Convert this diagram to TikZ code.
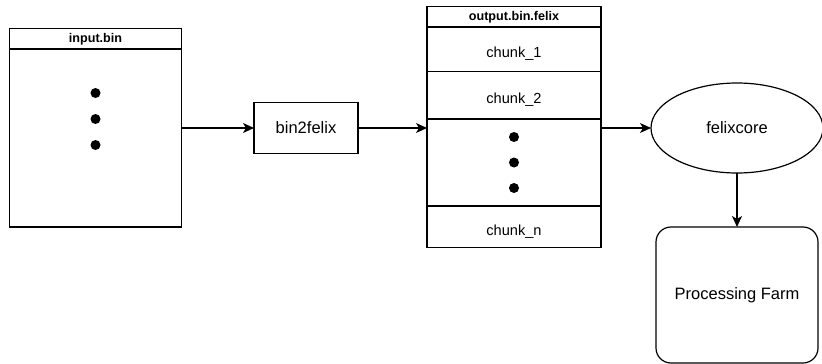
\documentclass[tikz,border=0pt]{standalone}
\usepackage{fontspec}
\setmainfont{Liberation Sans}
\usepackage{tikz}
\usetikzlibrary{arrows.meta,positioning,shapes.geometric}
\tikzset{
  box/.style = {rectangle, draw=black, line width=1.2pt, inner sep=0pt,
    outer sep=0pt, align=center, font=\fontsize{16.5}{20}\selectfont},
  hdr/.style = {box, font=\fontsize{12.6}{15}\selectfont\bfseries,
    minimum height=20.5pt},% title bar of a file
  cell/.style = {box, font=\fontsize{14.6}{17}\selectfont,
    text height=20pt},% one chunk
  dot/.style = {circle, fill=black, inner sep=0pt, minimum size=10pt},
  arr/.style = {-{Stealth[length=11pt,width=10pt,inset=3pt]}, line width=1.4pt}
}
\begin{document}
\begin{tikzpicture}[x=1pt,y=-1pt]
\useasboundingbox (0,0) rectangle (822,364);
% input file
\node [hdr, minimum width=172pt, anchor=north west] (inhdr) at (9.5,28.5) {input.bin};
\node [box, minimum width=172pt, minimum height=178pt, below=0pt of inhdr] (inbody) {};
\node [dot] (indot1) at (95.5,93) {};
\node [dot] (indot2) at (95.5,119) {};
\node [dot] (indot3) at (95.5,145) {};
% converter
\node [box, minimum width=104pt, minimum height=51pt] (bin) at (306,128) {bin2felix};
% output file
\node [hdr, minimum width=174pt, anchor=north west] (outhdr) at (427,6.5) {output.bin.felix};
\node [cell, minimum width=174pt, minimum height=44.7pt, below=0pt of outhdr] (chunk1) {chunk\_1};
\node [cell, minimum width=174pt, minimum height=47.3pt, below=0pt of chunk1] (chunk2) {chunk\_2};
\node [cell, minimum width=174pt, minimum height=87pt, below=0pt of chunk2] (outdots) {};
\node [cell, minimum width=174pt, minimum height=41.5pt, below=0pt of outdots] (chunkn) {chunk\_n};
\node [dot] (outdot1) at (514,137) {};
\node [dot] (outdot2) at (514,162.5) {};
\node [dot] (outdot3) at (514,188) {};
% readout
\node [box, ellipse, minimum width=172pt, minimum height=90pt] (felix) at (737,128) {felixcore};
\node [box, rounded corners=15pt, minimum width=162pt, minimum height=136pt] (farm) at (737,295) {Processing Farm};
% connections
\draw [arr] (inbody.east |- bin.west) -- (bin.west);
\draw [arr] (bin.east) -- (bin.east -| outdots.west);
\draw [arr] (outdots.east |- felix.west) -- (felix.west);
\draw [arr] (felix.south) -- (farm.north);
\end{tikzpicture}
\end{document}
